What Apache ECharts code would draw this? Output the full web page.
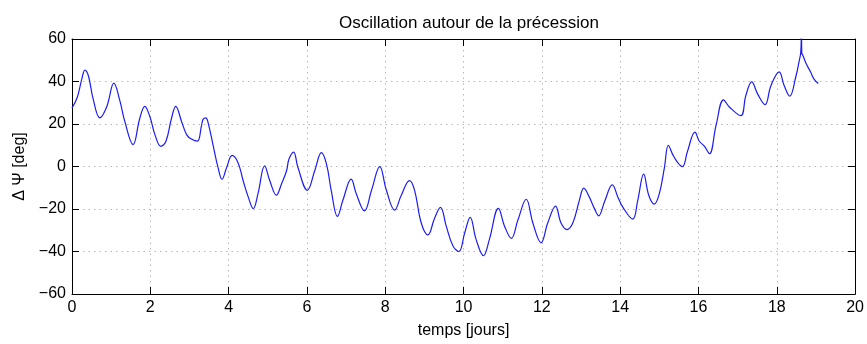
<!DOCTYPE html>
<html>
<head>
<meta charset="utf-8">
<script src="https://cdn.jsdelivr.net/npm/echarts@6/dist/echarts.min.js"></script>
<style>
  html, body { margin: 0; padding: 0; background: #fff; }
  #chart { width: 867px; height: 344px; }
</style>
</head>
<body>
<div id="chart"></div>
<script>
// Time samples in days
const tDays = [
  0.00, 0.135, 0.25, 0.33, 0.42, 0.54, 0.71, 0.885, 1.07, 1.22,
  1.35, 1.56, 1.73, 1.86, 1.99, 2.12, 2.27, 2.40, 2.54, 2.65,
  2.80, 2.93, 3.05, 3.20, 3.31, 3.35, 3.42, 3.48, 3.60, 3.73,
  3.83, 3.95, 4.09, 4.24, 4.37, 4.50, 4.63, 4.75, 4.92, 5.05,
  5.22, 5.35, 5.48, 5.54, 5.66, 5.77, 6.01, 6.20, 6.37, 6.50,
  6.62, 6.78, 6.92, 7.13, 7.26, 7.47, 7.65, 7.86, 8.03, 8.24,
  8.41, 8.62, 8.75, 8.92, 9.09, 9.26, 9.41, 9.56, 9.73, 9.88,
  10.03, 10.17, 10.32, 10.51, 10.66, 10.89, 11.05, 11.22, 11.39, 11.60,
  11.77, 11.98, 12.15, 12.35, 12.49, 12.64, 12.79, 12.96, 13.07, 13.21,
  13.34, 13.45, 13.60, 13.80, 13.94, 14.06, 14.32, 14.45, 14.60, 14.73,
  14.87, 15.00, 15.13, 15.23, 15.34, 15.47, 15.59, 15.72, 15.91, 16.02,
  16.15, 16.28, 16.45, 16.64, 16.79, 17.08, 17.21, 17.36, 17.51, 17.70,
  17.85, 18.06, 18.19, 18.33, 18.49, 18.57, 18.61, 18.63, 18.64, 18.66,
  18.74, 18.87, 18.95, 19.06
];

// Oscillation of the precession angle, in degrees
const deltaPsi = [
  27.5, 32.6, 41.1, 45.4, 42.6, 31.8, 22.9, 28.0, 39.2, 31.1,
  21.1, 10.3, 22.6, 28.3, 23.4, 14.9, 9.5, 11.9, 22.6, 28.3,
  21.1, 14.9, 12.9, 11.9, 19.5, 22.3, 22.9, 20.3, 10.3, -0.5,
  -6.0, -0.5, 5.2, 1.8, -6.6, -14.3, -19.8, -12.8, 0.3, -6.6,
  -13.5, -8.2, -2.0, 3.4, 6.8, -0.5, -11.2, -2.0, 6.5, 1.1,
  -11.2, -23.5, -15.8, -5.9, -12.8, -20.9, -11.2, -0.1, -11.2, -20.5,
  -13.5, -6.6, -11.2, -26.6, -32.2, -24.3, -19.2, -28.2, -37.4, -40.0,
  -31.2, -23.9, -34.3, -42.0, -34.3, -19.7, -28.2, -33.8, -25.1, -15.4,
  -26.6, -35.9, -26.6, -18.6, -26.6, -29.7, -26.6, -15.8, -10.2, -14.3,
  -19.7, -23.2, -16.6, -8.6, -14.3, -18.9, -24.8, -15.8, -3.6, -13.5,
  -17.7, -12.8, -0.5, 10.0, 5.7, 1.8, -0.1, 7.2, 16.2, 11.9,
  9.6, 6.0, 19.5, 31.4, 28.0, 23.9, 33.4, 39.8, 34.2, 29.1,
  38.0, 44.5, 38.0, 33.1, 42.6, 49.5, 53.4, 62.0, 53.0, 52.6,
  48.8, 44.2, 41.1, 39.1
];

// Axis ranges and tick steps
const xRange = [0, 20];
const xStep = 2;
const yRange = [-60, 60];
const yStep = 20;

const titleText = 'Oscillation autour de la précession';
const xLabelText = 'temps [jours]';
const yLabelText = 'Δ Ψ [deg]';

const FONT = '"Liberation Sans", Arial, Helvetica, sans-serif';
const fmt = v => String(v).replace('-', '\u2212');

const tickStyle = { show: true, inside: true, length: 7, lineStyle: { color: '#000', width: 1 } };
const lineStyle = { show: true, onZero: false, lineStyle: { color: '#000', width: 1 } };
const gridStyle = { show: true, lineStyle: { color: '#b8b8b8', width: 1, type: [1.5, 4] } };

const chart = echarts.init(document.getElementById('chart'), null, { renderer: 'canvas' });

chart.setOption({
  animation: false,
  backgroundColor: '#fff',
  title: {
    text: titleText,
    left: 464,
    textAlign: 'center',
    top: 10,
    textStyle: { fontFamily: FONT, fontSize: 17, fontWeight: 'normal', color: '#000' }
  },
  grid: { left: 72, top: 39, right: 11, bottom: 45, containLabel: false },
  xAxis: [
    {
      type: 'value', min: xRange[0], max: xRange[1], interval: xStep,
      position: 'bottom',
      name: xLabelText, nameLocation: 'middle', nameGap: 29,
      nameTextStyle: { fontFamily: FONT, fontSize: 16, color: '#000' },
      axisLine: lineStyle, axisTick: tickStyle,
      axisLabel: { fontFamily: FONT, fontSize: 16, color: '#000', margin: 6, formatter: fmt },
      splitLine: gridStyle
    },
    {
      type: 'value', min: xRange[0], max: xRange[1], interval: xStep,
      position: 'top',
      axisLine: lineStyle, axisTick: tickStyle,
      axisLabel: { show: false }, splitLine: { show: false }
    }
  ],
  yAxis: [
    {
      type: 'value', min: yRange[0], max: yRange[1], interval: yStep,
      position: 'left',
      name: yLabelText, nameLocation: 'middle', nameGap: 41, nameRotate: 90,
      nameTextStyle: { fontFamily: FONT, fontSize: 16, color: '#000' },
      axisLine: lineStyle, axisTick: tickStyle,
      axisLabel: { fontFamily: FONT, fontSize: 16, color: '#000', margin: 6, formatter: fmt },
      splitLine: gridStyle
    },
    {
      type: 'value', min: yRange[0], max: yRange[1], interval: yStep,
      position: 'right',
      axisLine: lineStyle, axisTick: tickStyle,
      axisLabel: { show: false }, splitLine: { show: false }
    }
  ],
  series: [
    {
      type: 'line',
      xAxisIndex: 0, yAxisIndex: 0,
      data: tDays.map((t, i) => [t, deltaPsi[i]]),
      showSymbol: false,
      smooth: 0.4,
      clip: true,
      lineStyle: { color: '#1c1cf0', width: 1.2 }
    }
  ]
});
</script>
</body>
</html>
